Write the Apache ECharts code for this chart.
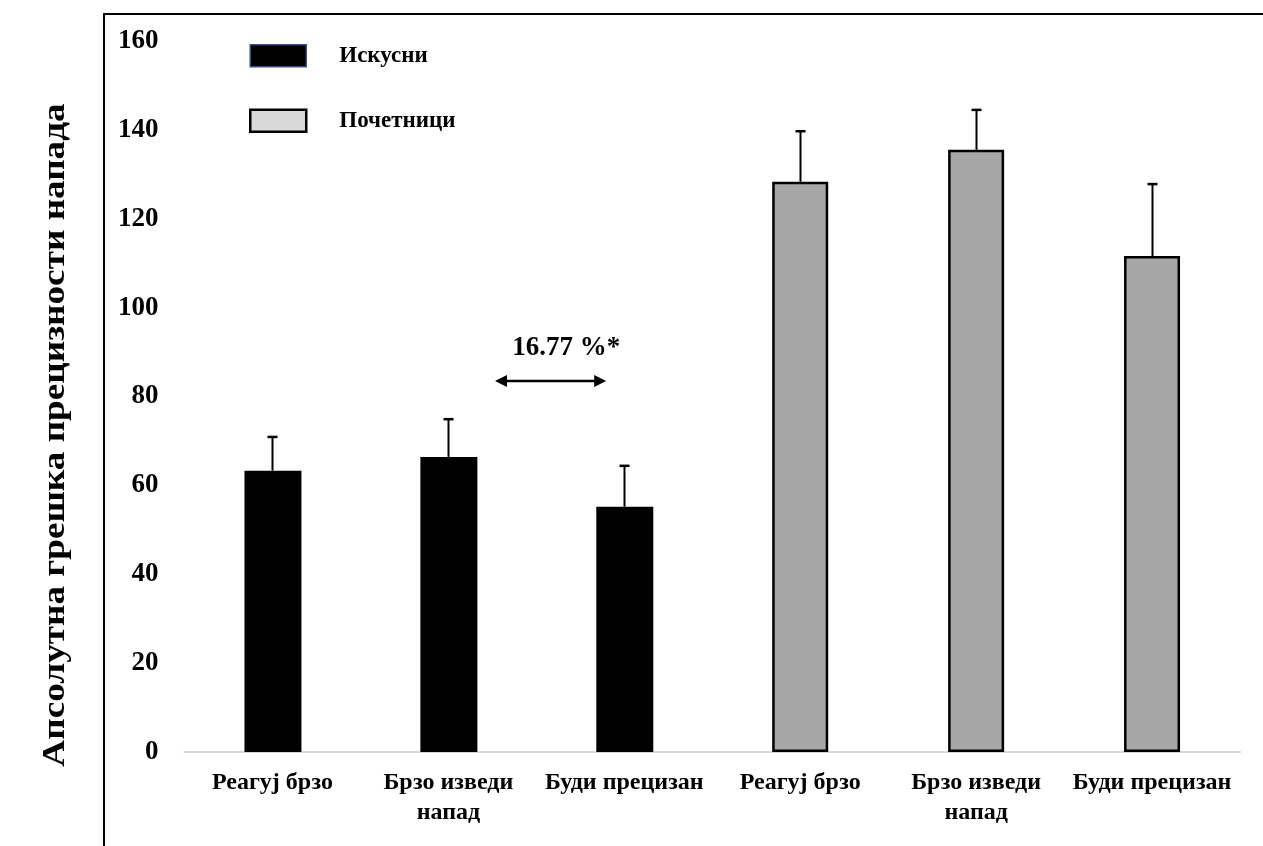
<!DOCTYPE html>
<html>
<head>
<meta charset="utf-8">
<script src="https://cdn.jsdelivr.net/npm/echarts@6/dist/echarts.min.js"></script>
<style>
html,body{margin:0;padding:0;background:#fff;}
#chart{width:1263px;height:846px;}
</style>
</head>
<body>
<div id="chart"></div>
<script>
// ---- data ----
const categories = ['Реагуј брзо', 'Брзо изведи\nнапад', 'Буди прецизан', 'Реагуј брзо', 'Брзо изведи\nнапад', 'Буди прецизан'];
const seriesNames = ['Искусни', 'Почетници'];
const skilledMeans = [63.3, 66.4, 55.2, '-', '-', '-'];
const noviceMeans = ['-', '-', '-', 128.3, 135.5, 111.6];
const sdValues = [7.6, 8.5, 9.2, 11.4, 9.0, 16.2];
const yTicks = [0, 20, 40, 60, 80, 100, 120, 140, 160];
const annotationText = '16.77 %*';
const annotationArrow = [[1.765, 83.5], [2.397, 83.5]];
const annotationLabelPos = [2.17, 90.9];
const yTitle = 'Апсолутна грешка прецизности напада';

const FONT = '"Liberation Serif", "Times New Roman", serif';

const errData = categories.map((c, i) => {
  const m = skilledMeans[i] !== '-' ? skilledMeans[i] : noviceMeans[i];
  return [i, m, m + sdValues[i]];
});

const chart = echarts.init(document.getElementById('chart'));
chart.setOption({
  animation: false,
  backgroundColor: '#fff',
  grid: { left: 184.5, right: 23, top: 41, bottom: 94, containLabel: false },
  legend: {
    orient: 'vertical',
    left: 244,
    top: 39,
    itemWidth: 56,
    itemHeight: 22,
    itemGap: 41,
    selectedMode: false,
    icon: 'rect',
    textStyle: { fontFamily: FONT, fontWeight: 'bold', fontSize: 23, color: '#000', padding: [0, 0, 0, 28] },
    data: [
      { name: seriesNames[0], itemStyle: { color: '#000', borderColor: '#2f4f8f', borderWidth: 1.5 } },
      { name: seriesNames[1], itemStyle: { color: '#d9d9d9', borderColor: '#000', borderWidth: 2.5 } }
    ]
  },
  xAxis: [{
    type: 'category',
    data: categories,
    axisLine: { lineStyle: { color: '#d9d9d9', width: 2 } },
    axisTick: { show: false },
    axisLabel: { interval: 0, fontFamily: FONT, fontWeight: 'bold', fontSize: 24, color: '#000', margin: 16, lineHeight: 30 }
  }, {
    type: 'value', min: 0, max: 6, show: false
  }],
  yAxis: {
    type: 'value', min: yTicks[0], max: yTicks[yTicks.length - 1], interval: 20,
    axisLine: { show: false }, axisTick: { show: false }, splitLine: { show: false },
    axisLabel: { fontFamily: FONT, fontWeight: 'bold', fontSize: 27, color: '#000', margin: 26 }
  },
  series: [
    {
      name: seriesNames[0], type: 'bar', data: skilledMeans, barWidth: 57, barGap: '-100%',
      itemStyle: { color: '#000' }
    },
    {
      name: seriesNames[1], type: 'bar', data: noviceMeans, barWidth: 56, barGap: '-100%',
      itemStyle: { color: '#a6a6a6', borderColor: '#000', borderWidth: 2.5 }
    },
    {
      type: 'custom', data: errData, z: 5,
      renderItem: function (params, api) {
        const i = api.value(0);
        const p0 = api.coord([i, api.value(1)]);
        const p1 = api.coord([i, api.value(2)]);
        const x = Math.round(p0[0]) + 0.5;
        return {
          type: 'group',
          children: [
            { type: 'line', shape: { x1: x, y1: p0[1], x2: x, y2: p1[1] }, style: { stroke: '#000', lineWidth: 2 } },
            { type: 'line', shape: { x1: x - 5, y1: p1[1], x2: x + 5, y2: p1[1] }, style: { stroke: '#000', lineWidth: 2.5 } }
          ]
        };
      }
    },
    {
      type: 'custom', xAxisIndex: 1, data: [[annotationArrow[0][0], annotationArrow[0][1], annotationArrow[1][0], annotationArrow[1][1]]],
      silent: true, z: 6,
      renderItem: function (params, api) {
        const a = api.coord([api.value(0), api.value(1)]);
        const b = api.coord([api.value(2), api.value(3)]);
        const t = api.coord(annotationLabelPos);
        const h = 12, w = 6;
        return {
          type: 'group',
          children: [
            { type: 'line', shape: { x1: a[0] + h - 2, y1: a[1], x2: b[0] - h + 2, y2: b[1] }, style: { stroke: '#000', lineWidth: 2.5 } },
            { type: 'polygon', shape: { points: [[a[0], a[1]], [a[0] + h, a[1] - w], [a[0] + h, a[1] + w]] }, style: { fill: '#000' } },
            { type: 'polygon', shape: { points: [[b[0], b[1]], [b[0] - h, b[1] - w], [b[0] - h, b[1] + w]] }, style: { fill: '#000' } },
            { type: 'text', x: t[0], y: t[1], style: { text: annotationText, fontFamily: FONT, fontWeight: 'bold', fontSize: 27, fill: '#000', align: 'center', verticalAlign: 'middle' } }
          ]
        };
      }
    }
  ],
  graphic: [
    { type: 'line', shape: { x1: 104, y1: 14, x2: 104, y2: 846 }, style: { stroke: '#000', lineWidth: 2 } },
    { type: 'line', shape: { x1: 103, y1: 14, x2: 1263, y2: 14 }, style: { stroke: '#000', lineWidth: 2 } },
    { type: 'text', x: 56, y: 435, rotation: Math.PI / 2, scaleX: 1.2,
      style: { text: yTitle, fontFamily: FONT, fontWeight: 'bold', fontSize: 31, fill: '#000', align: 'center', verticalAlign: 'middle' } }
  ]
});
</script>
</body>
</html>
